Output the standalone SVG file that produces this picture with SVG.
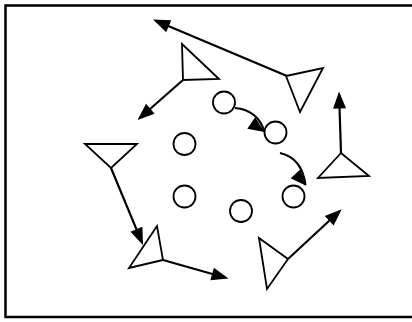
<svg xmlns="http://www.w3.org/2000/svg" width="412" height="322" viewBox="0 0 412 322">
<style>
.tri{fill:none;stroke:#000;stroke-width:1.8;stroke-linejoin:miter}
.node{fill:#fff;stroke:#000;stroke-width:1.8}
.conn{fill:none;stroke:#000;stroke-width:2.2}
</style>
<defs>
<marker id="ah" markerUnits="userSpaceOnUse" markerWidth="17" markerHeight="13" refX="14" refY="6.5" orient="auto" overflow="visible"><path d="M0,0 L17,6.5 L0,13 z" fill="#000"/></marker>
<marker id="ah1" markerUnits="userSpaceOnUse" markerWidth="16" markerHeight="14" refX="16" refY="7" orient="34" overflow="visible"><path d="M0,0 L16,7 L0,14 z" fill="#000"/></marker>
<marker id="ah2" markerUnits="userSpaceOnUse" markerWidth="16" markerHeight="13" refX="15" refY="6.5" orient="48" overflow="visible"><path d="M0,0 L16,6.5 L0,13 z" fill="#000"/></marker>
</defs>
<rect x="5.5" y="5.5" width="420" height="311.5" fill="#fff" stroke="#000" stroke-width="2.5"/>
<g id="triA"><polygon class="tri" points="182,44 183,80 219,79"/></g>
<g id="triB"><polygon class="tri" points="286,76 323,68 300,112"/></g>
<g id="triC"><polygon class="tri" points="341,153 318,178 369,176"/></g>
<g id="triD"><polygon class="tri" points="85,144 137,144 111,168"/></g>
<g id="triE"><polygon class="tri" points="157,226 129,268 163,260"/></g>
<g id="triF"><polygon class="tri" points="259,238 267,289 288,259"/></g>
<g id="c1"><circle class="node" cx="224" cy="102.5" r="11"/></g>
<g id="c2"><circle class="node" cx="275.5" cy="132.5" r="11"/></g>
<g id="c3"><circle class="node" cx="293.5" cy="196.5" r="11"/></g>
<g id="c4"><circle class="node" cx="241" cy="211" r="11"/></g>
<g id="c5"><circle class="node" cx="184.5" cy="144" r="11"/></g>
<g id="c6"><circle class="node" cx="184.5" cy="196.5" r="11"/></g>
<g id="connectors">
<line class="conn" x1="287" y1="76" x2="155.8" y2="20.7" marker-end="url(#ah)"/>
<line class="conn" x1="183" y1="80" x2="139.8" y2="118" marker-end="url(#ah)"/>
<line class="conn" x1="341" y1="153" x2="339.1" y2="94.5" marker-end="url(#ah)"/>
<line class="conn" x1="111" y1="168" x2="141.8" y2="242.2" marker-end="url(#ah)"/>
<line class="conn" x1="163" y1="260" x2="225.6" y2="277.7" marker-end="url(#ah)"/>
<line class="conn" x1="288" y1="259" x2="339.5" y2="211.3" marker-end="url(#ah)"/>
<path class="conn" d="M235,108 Q258,110 264.5,132" marker-end="url(#ah1)"/>
<path class="conn" d="M280,153 Q302,158 305.5,185" marker-end="url(#ah2)"/>
</g>
</svg>
